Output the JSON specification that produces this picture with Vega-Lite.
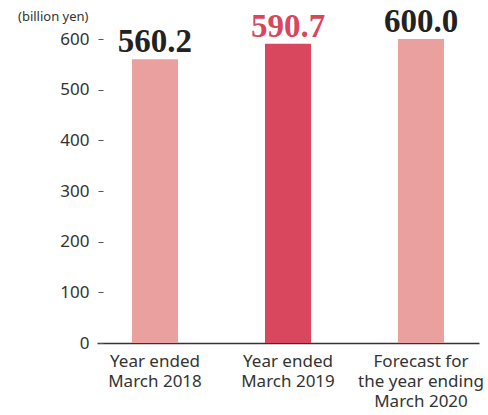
{
  "$schema": "https://vega.github.io/schema/vega-lite/v6.json",
  "width": 382,
  "height": 304,
  "autosize": {"type": "none"},
  "padding": {"left": 97, "top": 39, "right": 9, "bottom": 72},
  "background": "white",
  "config": {"view": {"stroke": null}},
  "data": {
    "values": [
      {"period": "Year ended|March 2018", "value": 560.2, "label": "560.2", "kind": "a"},
      {"period": "Year ended|March 2019", "value": 590.7, "label": "590.7", "kind": "b"},
      {"period": "Forecast for|the year ending|March 2020", "value": 600.0, "label": "600.0", "kind": "a"}
    ]
  },
  "encoding": {
    "x": {
      "field": "period",
      "type": "nominal",
      "sort": null,
      "scale": {"paddingInner": 0.654, "paddingOuter": 0.263},
      "axis": {
        "title": null,
        "labelAngle": 0,
        "labelExpr": "split(datum.value, '|')",
        "labelFont": "Noto Sans",
        "labelFontSize": 17,
        "labelColor": "#333333",
        "labelLineHeight": 20,
        "labelBaseline": "top",
        "labelPadding": 10,
        "ticks": false,
        "domainColor": "#333333",
        "domainWidth": 1.5
      }
    },
    "y": {
      "field": "value",
      "type": "quantitative",
      "scale": {"domain": [0, 600], "nice": false},
      "axis": {
        "values": [0, 100, 200, 300, 400, 500, 600],
        "grid": false,
        "domain": false,
        "offset": -6,
        "tickSize": 5,
        "tickColor": "#555555",
        "tickWidth": 1,
        "labelPadding": 9,
        "labelFont": "Noto Sans",
        "labelFontSize": 17,
        "labelColor": "#333333",
        "title": "(billion yen)",
        "titleAngle": 0,
        "titleAlign": "right",
        "titleBaseline": "middle",
        "titleX": -15,
        "titleY": -23,
        "titleFont": "Noto Sans",
        "titleFontSize": 13,
        "titleFontWeight": "normal",
        "titleColor": "#333333"
      }
    }
  },
  "layer": [
    {
      "mark": {"type": "bar"},
      "encoding": {
        "color": {
          "field": "kind",
          "type": "nominal",
          "scale": {"domain": ["a", "b"], "range": ["#E9A09F", "#D9475F"]},
          "legend": null
        }
      }
    },
    {
      "mark": {"type": "text", "baseline": "alphabetic", "dy": -7, "font": "Liberation Serif", "fontSize": 33, "fontWeight": "bold"},
      "encoding": {
        "text": {"field": "label"},
        "color": {
          "field": "kind",
          "type": "nominal",
          "scale": {"domain": ["a", "b"], "range": ["#222222", "#D9475F"]},
          "legend": null
        }
      }
    }
  ],
  "resolve": {"scale": {"color": "independent"}}
}
